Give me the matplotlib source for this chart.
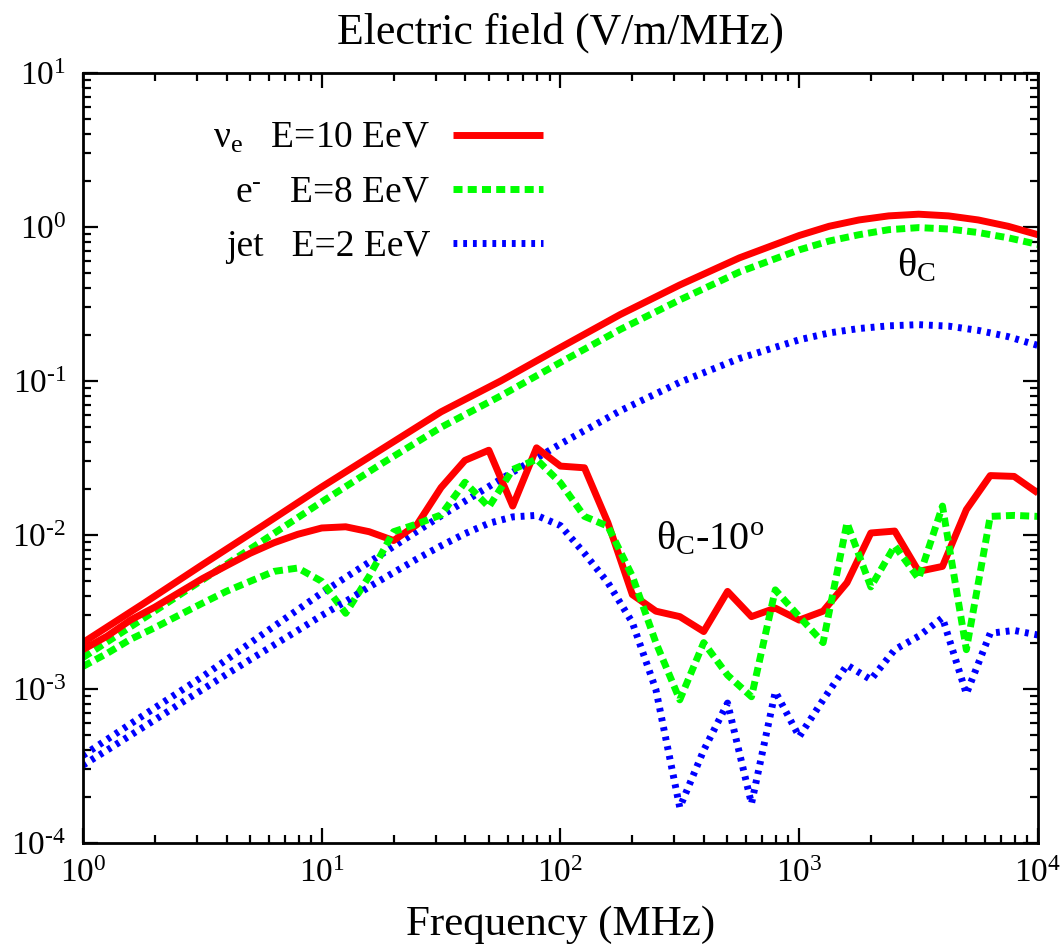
import numpy as np
import matplotlib
matplotlib.use('Agg')
import matplotlib.pyplot as plt
from matplotlib.ticker import LogLocator, NullFormatter, FuncFormatter

plt.rcParams['font.family'] = ['Liberation Serif', 'DejaVu Serif']
plt.rcParams['mathtext.fontset'] = 'custom'
plt.rcParams['mathtext.rm'] = 'Liberation Serif'
plt.rcParams['mathtext.it'] = 'Liberation Serif:italic'

# ---- smooth curves at the Cherenkov angle
freq_c = [1, 1.78, 3.16, 5.62, 10, 17.8, 31.6, 56.2, 100, 178, 316, 562,
          1000, 1334, 1778, 2371, 3162, 4217, 5623, 7499, 10000]
nue_c = [0.0020, 0.00356, 0.0064, 0.0114, 0.0205, 0.036, 0.063, 0.10, 0.165,
         0.27, 0.42, 0.63, 0.88, 1.01, 1.11, 1.18, 1.21, 1.18, 1.11, 1.01, 0.89]
elec_c = [0.0016, 0.00285, 0.0051, 0.0091, 0.0164, 0.029, 0.050, 0.080, 0.132,
          0.216, 0.336, 0.51, 0.71, 0.81, 0.89, 0.96, 0.99, 0.97, 0.92, 0.85, 0.77]
jet_c = [3.7e-4, 6.7e-4, 1.2e-3, 2.25e-3, 0.0042, 0.0075, 0.0133, 0.023, 0.039,
         0.064, 0.098, 0.14, 0.185, 0.205, 0.219, 0.228, 0.232, 0.227, 0.213, 0.194, 0.170]

# ---- 10 degrees off the Cherenkov angle (10 points per decade)
freq_off = [1, 1.26, 1.58, 2.0, 2.51, 3.16, 3.98, 5.01, 6.31, 7.94,
            10, 12.6, 15.8, 20, 25.1, 31.6, 39.8, 50.1, 63.1, 79.4,
            100, 126, 158, 200, 251, 316, 398, 501, 631, 794,
            1000, 1259, 1585, 1995, 2512, 3162, 3981, 5012, 6310, 7943, 10000]
nue_off = [0.0018, 0.0022, 0.0028, 0.0034, 0.0042, 0.0052, 0.0063, 0.0076, 0.0089, 0.0101,
           0.0111, 0.0113, 0.0105, 0.0092, 0.0117, 0.0203, 0.0305, 0.0355, 0.0154, 0.0368,
           0.028, 0.0273, 0.012, 0.0041, 0.0032, 0.00295, 0.00236, 0.0043, 0.00295, 0.00335,
           0.0028, 0.0032, 0.0049, 0.0103, 0.0106, 0.0058, 0.00625, 0.0146, 0.0243, 0.024, 0.0187]
elec_off = [0.0014, 0.0017, 0.0021, 0.0025, 0.0030, 0.0036, 0.0043, 0.0050, 0.0058, 0.0061,
            0.0050, 0.0031, 0.0054, 0.0105, 0.0118, 0.0135, 0.022, 0.0152, 0.0266, 0.031,
            0.0218, 0.0132, 0.0114, 0.0054, 0.0020, 0.00085, 0.0020, 0.00123, 0.00089, 0.0044,
            0.00295, 0.0020, 0.012, 0.0046, 0.0085, 0.0052, 0.0154, 0.0018, 0.0132, 0.0134, 0.0132]
jet_off = [3.2e-4, 4.0e-4, 5.0e-4, 6.3e-4, 7.9e-4, 9.9e-4, 1.24e-3, 1.55e-3, 1.93e-3, 2.4e-3,
           3.0e-3, 3.7e-3, 4.6e-3, 5.7e-3, 7.0e-3, 8.5e-3, 0.0102, 0.0119, 0.0131, 0.0134,
           0.0115, 0.0076, 0.0049, 0.0027, 0.00099, 0.00017, 0.0004, 0.00081, 0.00018, 0.00096,
           0.00049, 0.00085, 0.00143, 0.00115, 0.0018, 0.0022, 0.0029, 0.00093, 0.0023, 0.0024, 0.00224]

labels = ['\u03bd$_{\\rm e}$   E=10 EeV', 'e$^{\\rm \u2010}$   E=8 EeV', 'jet   E=2 EeV']
#-------------------------------------------------------------------
fig = plt.figure(figsize=(10.61, 9.46), dpi=100)
ax = fig.add_axes([0.0782, 0.1089, 0.9001, 0.8140])

lw = 5
red, green, blue = '#ff0000', '#00ff00', '#0000ff'
green_dash = (1.3, 0.75)
blue_dash = (0.55, 0.85)

l1, = ax.plot(freq_c, nue_c, color=red, lw=lw, solid_capstyle='butt')
l2, = ax.plot(freq_c, elec_c, color=green, lw=lw, dashes=green_dash, dash_capstyle='butt')
l3, = ax.plot(freq_c, jet_c, color=blue, lw=lw, dashes=blue_dash, dash_capstyle='butt')
ax.plot(freq_off, nue_off, color=red, lw=lw, solid_capstyle='butt')
ax.plot(freq_off, elec_off, color=green, lw=lw, dashes=green_dash, dash_capstyle='butt')
ax.plot(freq_off, jet_off, color=blue, lw=lw, dashes=blue_dash, dash_capstyle='butt')

ax.set_xscale('log')
ax.set_yscale('log')
ax.set_xlim(1, 1e4)
ax.set_ylim(1e-4, 10)

def pow10(v, pos):
    e = int(round(np.log10(v)))
    s = str(e).replace('-', '\u2010')
    return '10$^{\\rm %s}$' % s

ax.xaxis.set_major_locator(LogLocator(base=10, numticks=10))
ax.xaxis.set_minor_locator(LogLocator(base=10, subs=np.arange(2, 10), numticks=20))
ax.yaxis.set_minor_locator(LogLocator(base=10, subs=np.arange(2, 10), numticks=20))
ax.xaxis.set_major_formatter(FuncFormatter(pow10))
ax.yaxis.set_major_formatter(FuncFormatter(pow10))
ax.xaxis.set_minor_formatter(NullFormatter())
ax.yaxis.set_minor_formatter(NullFormatter())

for s in ax.spines.values():
    s.set_linewidth(2)
ax.tick_params(which='both', direction='in', top=True, right=True, width=1.6)
ax.tick_params(which='major', length=11, labelsize=24)
ax.tick_params(which='minor', length=5.5)
ax.tick_params(axis='x', pad=11)
ax.tick_params(axis='y', pad=12)

ax.set_title('Electric field (V/m/MHz)', fontsize=31.5, pad=21)
ax.set_xlabel('Frequency (MHz)', fontsize=31)
ax.xaxis.label.set_va('bottom')
ax.xaxis.set_label_coords(0.5, -0.131)

ax.text(2570, 0.48, '\u03b8$_{\\rm C}$', fontsize=29, ha='left', va='baseline')
ax.text(251, 0.0081, '\u03b8$_{\\rm C}$-10$^{\\rm o}$', fontsize=29, ha='left', va='baseline')

leg = ax.legend([l1, l2, l3], labels, loc='upper right', bbox_to_anchor=(0.482, 0.937),
                frameon=False, markerfirst=False, fontsize=27, handlelength=2.4,
                handletextpad=0.62, labelspacing=0.52, borderpad=0, borderaxespad=0)

fig.savefig('out.png', dpi=100)
